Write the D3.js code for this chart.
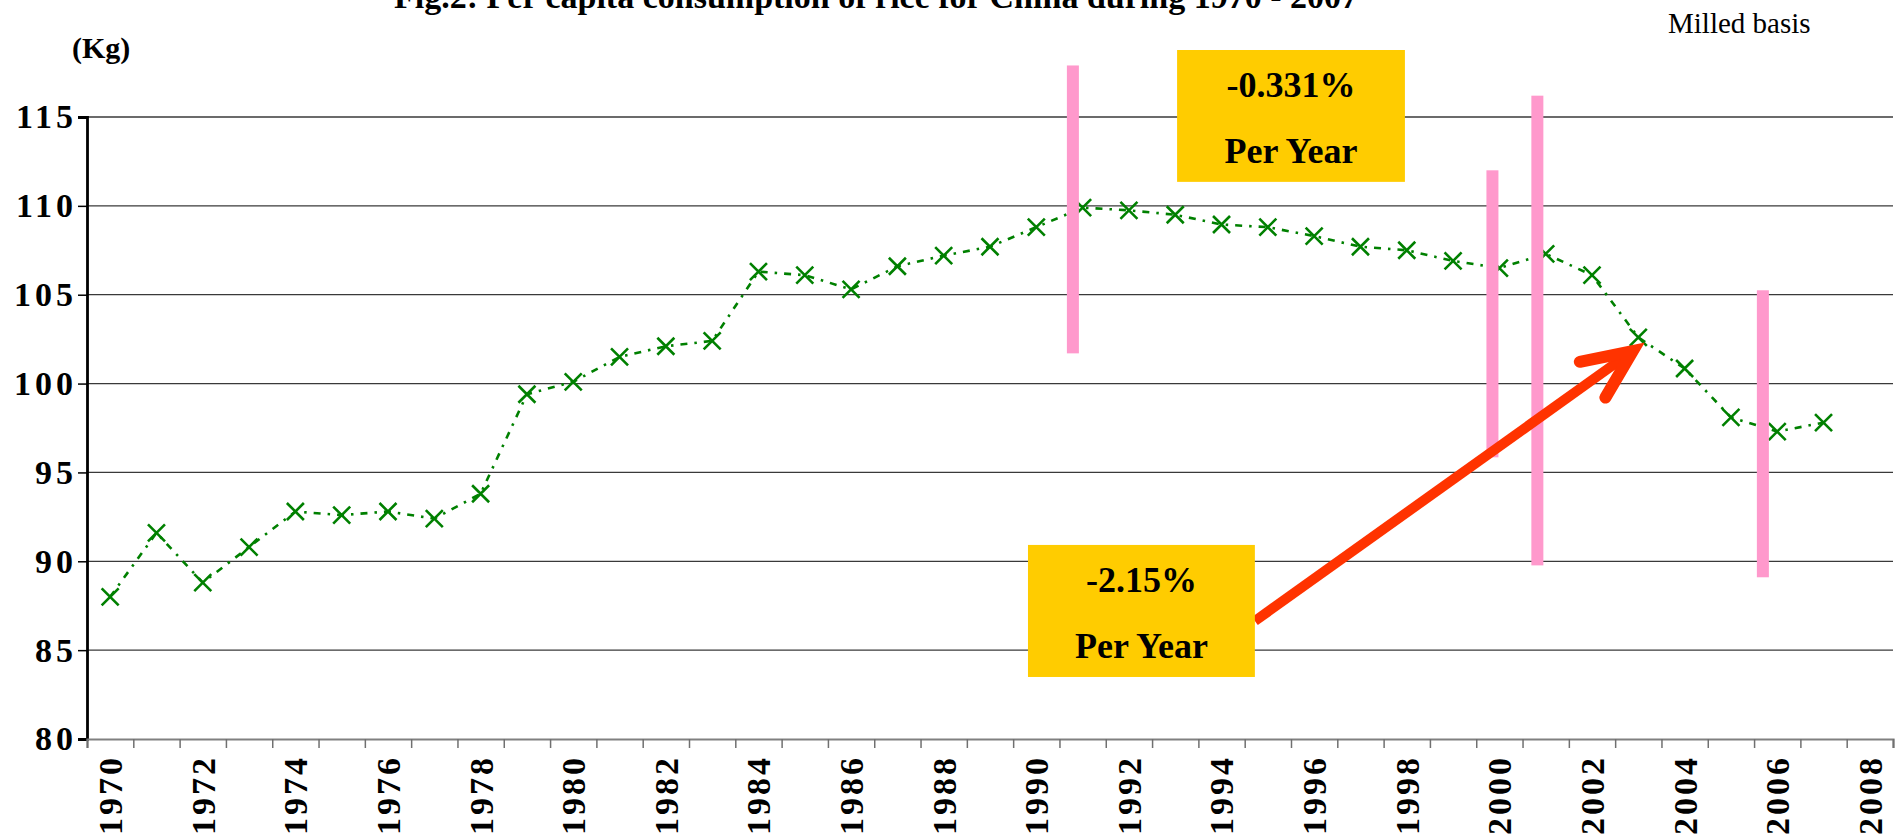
<!DOCTYPE html>
<html>
<head>
<meta charset="utf-8">
<script src="https://cdn.jsdelivr.net/npm/d3@7"></script>
<style>
body { margin: 0; background: #fff; }
svg { display: block; font-family: "Liberation Serif", "Times New Roman", serif; }
svg text { font-family: "Liberation Serif", "Times New Roman", serif; }
</style>
</head>
<body>
<svg id="chart" width="1896" height="835"></svg>
<script>
// Categories run 1970..2008 (2008 is an empty slot on the axis)
const years = d3.range(1970, 2009);
const dataYears = d3.range(1970, 2008);
// Per capita rice consumption, kg (milled basis)
const consumption = [88.0, 91.6, 88.8, 90.8, 92.8, 92.6, 92.8, 92.4, 93.8, 99.4,
    100.1, 101.5, 102.1, 102.4, 106.3, 106.1, 105.3, 106.6, 107.2, 107.7,
    108.8, 109.9, 109.75, 109.5, 108.95, 108.8, 108.3, 107.7, 107.5, 106.9,
    106.5, 107.3, 106.1, 102.6, 100.85, 98.1, 97.3, 97.8];
const yTicks = [80, 85, 90, 95, 100, 105, 110, 115];
const xLabels = years.filter(d => d % 2 === 0);

// pink break markers: [year position, low kg, high kg]
const pinkBars = [[1991.29, 101.7, 117.9], [2000.35, 95.85, 112.0], [2001.32, 89.77, 116.2], [2006.19, 89.1, 105.25]];
// yellow rate boxes, in year / kg units
const rateBoxes = [
    {x0: 1993.54, x1: 1998.46, lo: 111.35, hi: 118.77, rate: '-0.331%'},
    {x0: 1990.32, x1: 1995.22, lo: 83.49, hi: 90.92, rate: '-2.15%'}
];
const arrowFrom = [1995.22, 86.64];
const arrowTo = [2003.38, 101.83];

const svg = d3.select('#chart');
const plotLeft = 87, plotRight = 1893, plotTop = 117, plotBottom = 739;

const x = d3.scaleBand().domain(years).range([plotLeft, plotRight]).padding(0);
const xLin = d3.scaleLinear().domain([1970, 2009]).range([plotLeft, plotRight]); // continuous years for annotations
const y = d3.scaleLinear().domain([80, 115]).range([plotBottom, plotTop]);
const xc = d => x(d) + x.bandwidth() / 2;

// gridlines
svg.append('g')
    .selectAll('line')
    .data(yTicks.filter(d => d > 80))
    .enter()
    .append('line')
    .attr('x1', plotLeft).attr('x2', plotRight)
    .attr('y1', d => y(d)).attr('y2', d => y(d))
    .attr('stroke', '#3a3a3a')
    .attr('stroke-width', 1.3);

// data line + markers
const line = d3.line().x((d, i) => xc(dataYears[i])).y(d => y(d));
svg.append('path')
    .datum(consumption)
    .attr('d', line)
    .attr('fill', 'none')
    .attr('stroke', '#008000')
    .attr('stroke-width', 2.6)
    .attr('stroke-dasharray', '7,7,2.5,7');

const cross = 8.5;
svg.append('g')
    .selectAll('path')
    .data(consumption)
    .enter()
    .append('path')
    .attr('d', (d, i) => {
        const cx = xc(dataYears[i]), cy = y(d);
        return `M${cx - cross},${cy - cross}L${cx + cross},${cy + cross}M${cx - cross},${cy + cross}L${cx + cross},${cy - cross}`;
    })
    .attr('stroke', '#008000')
    .attr('stroke-width', 2.6)
    .attr('fill', 'none');

// pink bars sit on top of the line
svg.append('g')
    .selectAll('rect')
    .data(pinkBars)
    .enter()
    .append('rect')
    .attr('x', d => xLin(d[0]) - 6)
    .attr('width', 12)
    .attr('y', d => y(d[2]))
    .attr('height', d => y(d[1]) - y(d[2]))
    .attr('fill', '#ff99cc');

// red arrow
const ax0 = xLin(arrowFrom[0]), ay0 = y(arrowFrom[1]);
const ax1 = xLin(arrowTo[0]), ay1 = y(arrowTo[1]);
const ang = Math.atan2(ay0 - ay1, ax0 - ax1);
const headLen = 54, spread = 24 * Math.PI / 180;
svg.append('line')
    .attr('x1', ax0).attr('y1', ay0)
    .attr('x2', ax1 + 6 * Math.cos(ang)).attr('y2', ay1 + 6 * Math.sin(ang))
    .attr('stroke', '#ff3300')
    .attr('stroke-width', 10);
svg.append('path')
    .attr('d', `M${ax1 + headLen * Math.cos(ang + spread)},${ay1 + headLen * Math.sin(ang + spread)}` +
        `L${ax1},${ay1}` +
        `L${ax1 + headLen * Math.cos(ang - spread)},${ay1 + headLen * Math.sin(ang - spread)}`)
    .attr('fill', 'none')
    .attr('stroke', '#ff3300')
    .attr('stroke-width', 12)
    .attr('stroke-linecap', 'round')
    .attr('stroke-linejoin', 'miter');

// rate boxes
const boxes = svg.append('g')
    .selectAll('g')
    .data(rateBoxes)
    .enter()
    .append('g');
boxes.append('rect')
    .attr('x', d => xLin(d.x0))
    .attr('width', d => xLin(d.x1) - xLin(d.x0))
    .attr('y', d => y(d.hi))
    .attr('height', d => y(d.lo) - y(d.hi))
    .attr('fill', '#ffcc00');
boxes.append('text')
    .attr('x', d => (xLin(d.x0) + xLin(d.x1)) / 2)
    .attr('y', d => y(d.hi) + 47)
    .attr('text-anchor', 'middle')
    .attr('font-size', 36)
    .attr('font-weight', 'bold')
    .text(d => d.rate);
boxes.append('text')
    .attr('x', d => (xLin(d.x0) + xLin(d.x1)) / 2)
    .attr('y', d => y(d.hi) + 113)
    .attr('text-anchor', 'middle')
    .attr('font-size', 36)
    .attr('font-weight', 'bold')
    .text('Per Year');

// y axis
const yAxis = svg.append('g')
    .attr('transform', `translate(${plotLeft},0)`)
    .call(d3.axisLeft(y).tickValues(yTicks).tickSize(9).tickPadding(3));
yAxis.attr('font-family', null);
yAxis.select('.domain').attr('stroke', '#000').attr('stroke-width', 2.8);
yAxis.selectAll('.tick line').attr('stroke', '#000').attr('stroke-width', 1.5);
yAxis.selectAll('.tick text')
    .attr('x', -10)
    .style('font-size', '34px')
    .style('font-weight', 'bold')
    .style('letter-spacing', '4px')
    .attr('fill', '#000');

// x axis: ticks on category boundaries, labels on every other category
const xTickAxis = svg.append('g')
    .attr('transform', `translate(0,${plotBottom})`)
    .call(d3.axisBottom(xLin).tickValues(d3.range(1970, 2010)).tickSize(9).tickFormat(''));
xTickAxis.select('.domain').attr('stroke', '#808080').attr('stroke-width', 2.2);
xTickAxis.selectAll('.tick line').attr('stroke', '#707070').attr('stroke-width', 1.5);

const xLabelAxis = svg.append('g')
    .attr('transform', `translate(0,${plotBottom})`)
    .call(d3.axisBottom(x).tickValues(xLabels).tickSize(0));
xLabelAxis.attr('font-family', null);
xLabelAxis.select('.domain').remove();
xLabelAxis.selectAll('.tick text')
    .attr('transform', 'rotate(-90)')
    .attr('x', -16)
    .attr('y', 0)
    .attr('dy', '0.35em')
    .attr('text-anchor', 'end')
    .style('font-size', '34px')
    .style('font-weight', 'bold')
    .style('letter-spacing', '3px')
    .attr('fill', '#000');

// titles
svg.append('text')
    .attr('x', 876)
    .attr('y', 8)
    .attr('text-anchor', 'middle')
    .attr('font-size', 34)
    .attr('font-weight', 'bold')
    .text('Fig.2: Per capita consumption of rice for  China during 1970 - 2007');
svg.append('text')
    .attr('x', 72)
    .attr('y', 58)
    .attr('font-size', 30)
    .attr('font-weight', 'bold')
    .text('(Kg)');
svg.append('text')
    .attr('x', 1668)
    .attr('y', 33)
    .attr('font-size', 29)
    .text('Milled basis');
</script>
</body>
</html>
